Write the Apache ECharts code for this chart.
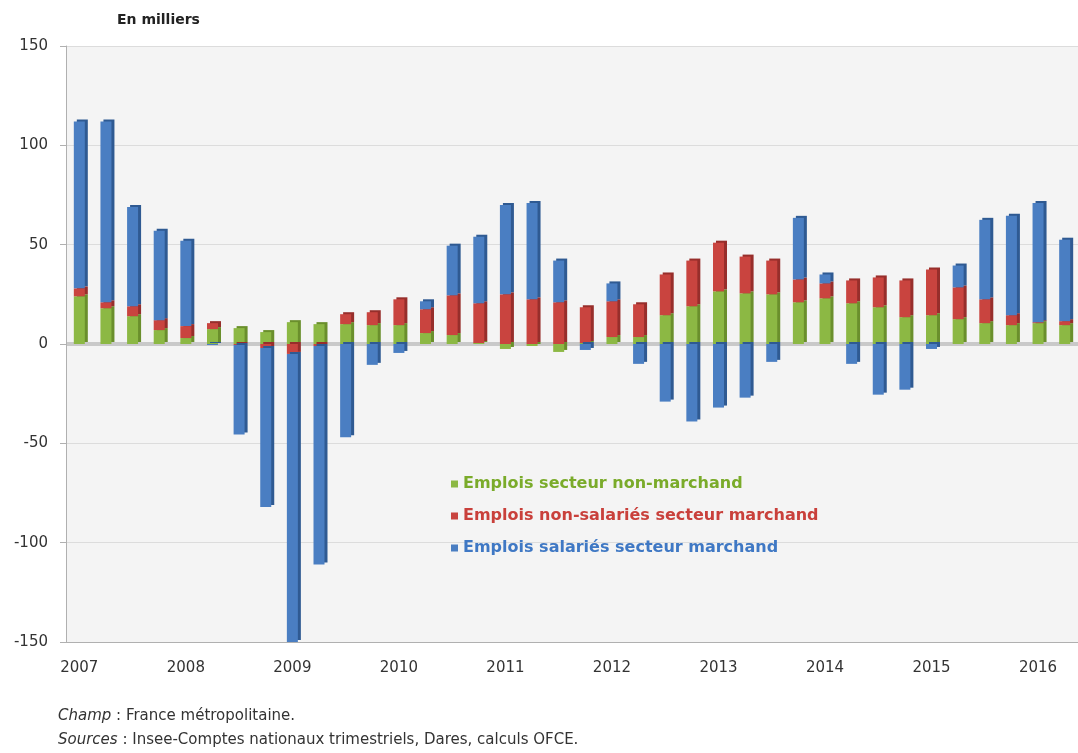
<!DOCTYPE html>
<html>
<head>
<meta charset="utf-8">
<script src="https://cdn.jsdelivr.net/npm/echarts@6/dist/echarts.min.js"></script>
<style>
  html, body { margin: 0; padding: 0; background: #fff; }
  #chart { width: 1078px; height: 753px; }
</style>
</head>
<body>
<div id="chart"></div>
<script>
(function(){
    // trimestres 2007T1 -> 2016T2
    var years = ['2007','2008','2009','2010','2011','2012','2013','2014','2015','2016'];
    var quarters = [];
    for (var i = 0; i < 38; i++) {
        quarters.push(years[Math.floor(i / 4)] + 'T' + (i % 4 + 1));
    }

    // en milliers
    var nonMarchand = [24,18,14,7,3,7.5,8,6,11,10,10,9.5,9.5,5.5,4.5,0.5,-2.5,-1,-4,0.5,
        3.5,3.5,14.5,19,26.5,25.5,25,21,23,20.5,18.5,13.5,14.5,12.5,10.5,9.5,10.5,9.5];
    var nonSalaries = [4,3,5,5,6,3,-0.5,-2,-5,-1,5,6.5,13,12,20,20,25,22.5,21,18,
        18,16.5,20.5,23,24.5,18.5,17,11.5,7.5,11.5,15,18.5,23,16,12,5,0.5,2];
    var salaries = [84,91,50,45,43,-0.5,-45,-80,-145,-110,-47,-10.5,-4.5,4,25,33.5,45,48.5,21,-3,
        9,-10,-29,-39,-32,-27,-9,31,4.5,-10,-25.5,-23,-2.5,11,40,50,60,41];

    var names = ['Emplois secteur non-marchand', 'Emplois non-salariés secteur marchand', 'Emplois salariés secteur marchand'];
    var colors = ['#8cb844', '#c9443f', '#4a7ec2'];
    var sides = ['#6a8f2c', '#972e2b', '#2f5a92'];
    var textColors = ['#7aab2a', '#c9403b', '#3f78c4'];

    var font = '"DejaVu Sans", sans-serif';
    var chart = echarts.init(document.getElementById('chart'));

    function barSerie(idx, data) {
        return {
            name: names[idx],
            type: 'bar',
            stack: 'emplois',
            barWidth: 11,
            data: data,
            itemStyle: {
                color: colors[idx],
                shadowColor: sides[idx],
                shadowBlur: 0,
                shadowOffsetX: 3,
                shadowOffsetY: -2
            }
        };
    }

    var option = {
        animation: false,
        title: {
            text: 'En milliers',
            left: 112,
            top: 8,
            textStyle: { fontFamily: font, fontSize: 14, fontWeight: 'bold', color: '#222' }
        },
        legend: {
            orient: 'vertical',
            left: 446,
            top: 471,
            icon: 'rect',
            itemWidth: 7,
            itemHeight: 7,
            itemGap: 16,
            textStyle: { fontFamily: font, fontSize: 16, fontWeight: 'bold' },
            data: [
                { name: names[0], textStyle: { color: textColors[0] } },
                { name: names[1], textStyle: { color: textColors[1] } },
                { name: names[2], textStyle: { color: textColors[2] } }
            ]
        },
        grid: {
            left: 66,
            right: 0,
            top: 46,
            bottom: 111,
            show: true,
            backgroundColor: '#f4f4f4',
            borderWidth: 0
        },
        xAxis: [
            {
                type: 'category',
                data: quarters,
                position: 'bottom',
                axisLine: { onZero: false, lineStyle: { color: '#b0b0b0' } },
                axisTick: { interval: 0, length: 4, lineStyle: { color: '#b0b0b0' } },
                axisLabel: {
                    interval: function (i) { return i % 4 === 0; },
                    formatter: function (v) { return v.slice(0, 4); },
                    margin: 19,
                    fontFamily: font,
                    fontSize: 15,
                    color: '#333'
                }
            },
            {
                // graduations longues pour les années
                type: 'category',
                data: quarters,
                position: 'bottom',
                axisLine: { show: false },
                axisTick: {
                    interval: function (i) { return i % 4 === 0; },
                    length: 9,
                    lineStyle: { color: '#b0b0b0' }
                },
                axisLabel: { show: false }
            }
        ],
        yAxis: [
            {
                type: 'value',
                min: -150,
                max: 150,
                interval: 50,
                axisLine: { show: true, lineStyle: { color: '#b0b0b0' } },
                axisTick: { show: true, length: 6, lineStyle: { color: '#b0b0b0' } },
                axisLabel: { margin: 18, fontFamily: font, fontSize: 15, color: '#333' },
                splitLine: { lineStyle: { color: '#dcdcdc' } }
            },
            {
                // plancher au niveau zéro
                type: 'value',
                min: -150,
                max: 150,
                interval: 150,
                axisLine: { show: false },
                axisTick: { show: false },
                axisLabel: { show: false },
                splitLine: { lineStyle: { color: ['transparent', '#c9c9c9', 'transparent'], width: 4 } }
            }
        ],
        series: [
            barSerie(0, nonMarchand),
            barSerie(1, nonSalaries),
            barSerie(2, salaries)
        ],
        graphic: [
            {
                type: 'text',
                left: 58,
                top: 709,
                style: {
                    text: '{i|Champ} : France métropolitaine.',
                    font: '15px ' + font,
                    fill: '#333',
                    rich: { i: { fontStyle: 'italic', fontFamily: font, fontSize: 15, fill: '#333' } }
                }
            },
            {
                type: 'text',
                left: 58,
                top: 733,
                style: {
                    text: '{i|Sources} : Insee-Comptes nationaux trimestriels, Dares, calculs OFCE.',
                    font: '15px ' + font,
                    fill: '#333',
                    rich: { i: { fontStyle: 'italic', fontFamily: font, fontSize: 15, fill: '#333' } }
                }
            }
        ]
    };

    chart.setOption(option);
})();
</script>
</body>
</html>
